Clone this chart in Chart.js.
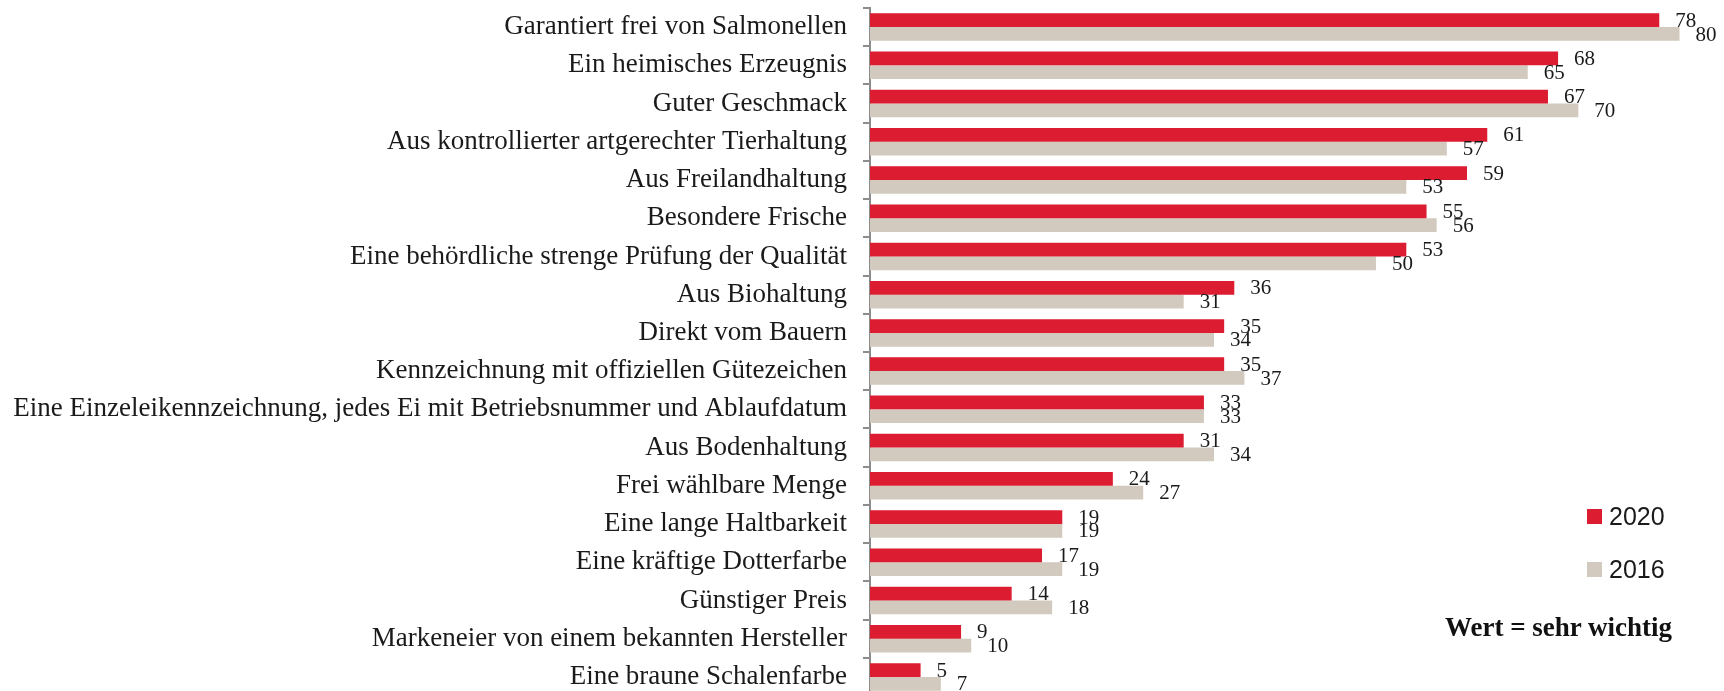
<!DOCTYPE html>
<html lang="de">
<head>
  <meta charset="UTF-8">
  <title>Eier Kaufkriterien</title>
  <script src="https://cdn.jsdelivr.net/npm/chart.js@4.4.1/dist/chart.umd.min.js"></script>
  <style>
    body { margin: 0; overflow: hidden; background: #fff; }
    #wrap { position: relative; width: 1724px; height: 700px; }
    .leg { position: absolute; left: 1587px; font: 25px "Liberation Sans", sans-serif; color: #1a1a1a; line-height: 30px; }
    .leg span { display: inline-block; width: 15px; height: 15px; margin-right: 7px; vertical-align: 1px; }
    #note { position: absolute; left: 1445px; top: 612px; font: bold 27px "Liberation Serif", serif; color: #111; }
  </style>
</head>
<body>
<div id="wrap">
  <canvas id="chart"></canvas>
  <div class="leg" style="top:501px"><span style="background:#dc1c30"></span>2020</div>
  <div class="leg" style="top:554px"><span style="background:#d2c9bf"></span>2016</div>
  <div id="note">Wert = sehr wichtig</div>
</div>
<script>
const labels = [
  'Garantiert frei von Salmonellen',
  'Ein heimisches Erzeugnis',
  'Guter Geschmack',
  'Aus kontrollierter artgerechter Tierhaltung',
  'Aus Freilandhaltung',
  'Besondere Frische',
  'Eine behördliche strenge Prüfung der Qualität',
  'Aus Biohaltung',
  'Direkt vom Bauern',
  'Kennzeichnung mit offiziellen Gütezeichen',
  'Eine Einzeleikennzeichnung, jedes Ei mit Betriebsnummer und Ablaufdatum',
  'Aus Bodenhaltung',
  'Frei wählbare Menge',
  'Eine lange Haltbarkeit',
  'Eine kräftige Dotterfarbe',
  'Günstiger Preis',
  'Markeneier von einem bekannten Hersteller',
  'Eine braune Schalenfarbe'
];
const values2020 = [78, 68, 67, 61, 59, 55, 53, 36, 35, 35, 33, 31, 24, 19, 17, 14, 9, 5];
const values2016 = [80, 65, 70, 57, 53, 56, 50, 31, 34, 37, 33, 34, 27, 19, 19, 18, 10, 7];

// value labels right of each bar
const barLabels = {
  id: 'barLabels',
  afterDatasetsDraw(chart) {
    const ctx = chart.ctx;
    ctx.save();
    ctx.font = '21px "Liberation Serif", serif';
    ctx.fillStyle = '#1a1a1a';
    ctx.textAlign = 'left';
    ctx.textBaseline = 'middle';
    chart.data.datasets.forEach((ds, i) => {
      chart.getDatasetMeta(i).data.forEach((bar, j) => {
        ctx.fillText(ds.data[j], bar.x + 16, bar.y + 1);
      });
    });
    ctx.restore();
  }
};

const ctx = document.getElementById('chart').getContext('2d');
new Chart(ctx, {
  type: 'bar',
  data: {
    labels: labels,
    datasets: [
      { label: '2020', data: values2020, backgroundColor: '#dc1c30' },
      { label: '2016', data: values2016, backgroundColor: '#d2c9bf' }
    ]
  },
  options: {
    indexAxis: 'y',
    responsive: true,
    maintainAspectRatio: false,
    animation: false,
    categoryPercentage: 0.72,
    barPercentage: 1.0,
    layout: { padding: { top: 8, bottom: 4, left: 0, right: 4 } },
    plugins: { legend: { display: false }, tooltip: { enabled: false } },
    scales: {
      x: { display: false, min: 0, max: 84 },
      y: {
        afterFit(scale) {
          scale.width = 870;
          scale.paddingTop = 0;
          scale.paddingBottom = 0;
        },
        grid: { display: true, drawOnChartArea: false, drawTicks: true, tickLength: 7, color: '#8c8c8c', lineWidth: 2, offset: true },
        border: { display: true, color: '#8c8c8c', width: 2 },
        ticks: {
          padding: 16,
          color: '#1a1a1a',
          font: { family: '"Liberation Serif", serif', size: 27 },
          autoSkip: false
        }
      }
    }
  },
  plugins: [barLabels]
});
</script>
</body>
</html>
